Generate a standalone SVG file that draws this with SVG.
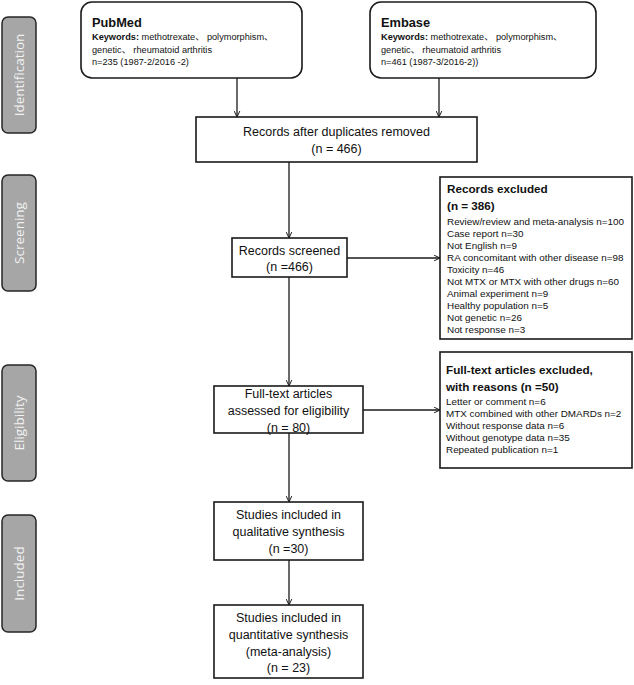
<svg xmlns="http://www.w3.org/2000/svg" width="634" height="685" viewBox="0 0 634 685">
<style>
  .bg{fill:#ffffff}
  .box{fill:#ffffff;stroke:#1a1a1a;stroke-width:1.6}
  .side{fill:#a6a6a6;stroke:#262626;stroke-width:1.5}
  .sidet{font-family:"Open Sans","Liberation Sans",sans-serif;font-size:13.5px;fill:#f2f2f2;text-anchor:middle}
  .main{font-family:"Liberation Sans","Noto Sans CJK SC",sans-serif;font-size:12.5px;fill:#111;text-anchor:middle}
  .hd{font-family:"Liberation Sans",sans-serif;font-size:12.8px;font-weight:bold;fill:#111}
  .hd2{font-family:"Liberation Sans",sans-serif;font-size:11.7px;font-weight:bold;fill:#111}
  .kw{font-family:"Liberation Sans","Noto Sans CJK SC",sans-serif;font-size:9.2px;fill:#111}
  .sm{font-family:"Liberation Sans",sans-serif;font-size:9.9px;fill:#111}
  .b{font-weight:bold}
  .conn{stroke:#1a1a1a;stroke-width:1.3;fill:none;marker-end:url(#arr)}
</style>
<defs>
  <marker id="arr" viewBox="0 0 10 10" refX="9.5" refY="5" markerWidth="7" markerHeight="7" markerUnits="userSpaceOnUse" orient="auto">
    <path d="M1,1 L9.5,5 L1,9" fill="none" stroke="#1a1a1a" stroke-width="1.4"/>
  </marker>
</defs>
<rect class="bg" x="0" y="0" width="634" height="685"/>

<g id="label-identification">
  <rect class="side" x="2" y="17" width="34" height="116" rx="6"/>
  <text class="sidet" transform="translate(23.5,75) rotate(-90)">Identification</text>
</g>
<g id="label-screening">
  <rect class="side" x="2" y="175" width="34" height="116" rx="6"/>
  <text class="sidet" transform="translate(23.5,233) rotate(-90)">Screening</text>
</g>
<g id="label-eligibility">
  <rect class="side" x="2" y="365" width="34" height="116" rx="6"/>
  <text class="sidet" transform="translate(23.5,423) rotate(-90)">Eligibility</text>
</g>
<g id="label-included">
  <rect class="side" x="2" y="515" width="34" height="117" rx="6"/>
  <text class="sidet" transform="translate(23.5,573.5) rotate(-90)">Included</text>
</g>

<g id="connectors">
  <line class="conn" x1="237" y1="78" x2="237" y2="117"/>
  <line class="conn" x1="439" y1="78" x2="439" y2="117"/>
  <line class="conn" x1="289" y1="162" x2="289" y2="238"/>
  <line class="conn" x1="347" y1="258" x2="440" y2="258"/>
  <line class="conn" x1="289" y1="277" x2="289" y2="386"/>
  <line class="conn" x1="363" y1="410" x2="440" y2="410"/>
  <line class="conn" x1="289" y1="433" x2="289" y2="502"/>
  <line class="conn" x1="289" y1="560" x2="289" y2="605"/>
</g>

<g id="pubmed">
  <rect class="box" x="81" y="2" width="221" height="76" rx="11"/>
  <text class="hd" x="92" y="27">PubMed</text>
  <text class="kw" x="92" y="40"><tspan class="b">Keywords:</tspan> methotrexate、 polymorphism、</text>
  <text class="kw" x="92" y="52.5">genetic、 rheumatoid arthritis</text>
  <text class="kw" x="92" y="65">n=235 (1987-2/2016 -2)</text>
</g>
<g id="embase">
  <rect class="box" x="370" y="2" width="226" height="76" rx="11"/>
  <text class="hd" x="381" y="27">Embase</text>
  <text class="kw" x="381" y="40"><tspan class="b">Keywords:</tspan> methotrexate、 polymorphism、</text>
  <text class="kw" x="381" y="52.5">genetic、 rheumatoid arthritis</text>
  <text class="kw" x="381" y="65">n=461 (1987-3/2016-2))</text>
</g>
<g id="duplicates">
  <rect class="box" x="196" y="117" width="281" height="45"/>
  <text class="main" x="336.5" y="136">Records after duplicates removed</text>
  <text class="main" x="336.5" y="153">(n = 466)</text>
</g>
<g id="screened">
  <rect class="box" x="232" y="238" width="115" height="39"/>
  <text class="main" x="289.5" y="255">Records screened</text>
  <text class="main" x="289.5" y="271">(n =466)</text>
</g>
<g id="excluded">
  <rect class="box" x="440" y="177" width="192" height="162"/>
  <text class="hd2" x="447" y="193">Records excluded</text>
  <text class="hd2" x="447" y="210">(n = 386)</text>
  <text class="sm" x="447" y="225">Review/review and meta-analysis n=100</text>
  <text class="sm" x="447" y="237">Case report n=30</text>
  <text class="sm" x="447" y="249">Not English n=9</text>
  <text class="sm" x="447" y="261">RA concomitant with other disease n=98</text>
  <text class="sm" x="447" y="273">Toxicity  n=46</text>
  <text class="sm" x="447" y="285">Not MTX or MTX with other drugs  n=60</text>
  <text class="sm" x="447" y="297">Animal experiment  n=9</text>
  <text class="sm" x="447" y="309">Healthy population n=5</text>
  <text class="sm" x="447" y="321">Not genetic n=26</text>
  <text class="sm" x="447" y="333">Not response n=3</text>
</g>
<g id="fulltext">
  <rect class="box" x="214" y="386" width="149" height="47"/>
  <text class="main" x="288.5" y="398">Full-text articles</text>
  <text class="main" x="288.5" y="415">assessed for eligibility</text>
  <text class="main" x="288.5" y="432">(n = 80)</text>
</g>
<g id="fulltext-excluded">
  <rect class="box" x="440" y="352" width="192" height="116"/>
  <text class="hd2" x="446" y="374">Full-text articles excluded,</text>
  <text class="hd2" x="446" y="391">with reasons (n =50)</text>
  <text class="sm" x="446" y="405">Letter or comment n=6</text>
  <text class="sm" x="446" y="417">MTX combined with other DMARDs n=2</text>
  <text class="sm" x="446" y="429">Without response data n=6</text>
  <text class="sm" x="446" y="441">Without genotype data n=35</text>
  <text class="sm" x="446" y="453">Repeated publication n=1</text>
</g>
<g id="qualitative">
  <rect class="box" x="214" y="502" width="149" height="58"/>
  <text class="main" x="288.5" y="519">Studies included in</text>
  <text class="main" x="288.5" y="536">qualitative synthesis</text>
  <text class="main" x="288.5" y="553">(n =30)</text>
</g>
<g id="quantitative">
  <rect class="box" x="214" y="605" width="149" height="73"/>
  <text class="main" x="288.5" y="622">Studies included in</text>
  <text class="main" x="288.5" y="639">quantitative synthesis</text>
  <text class="main" x="288.5" y="656">(meta-analysis)</text>
  <text class="main" x="288.5" y="672">(n = 23)</text>
</g>
</svg>
